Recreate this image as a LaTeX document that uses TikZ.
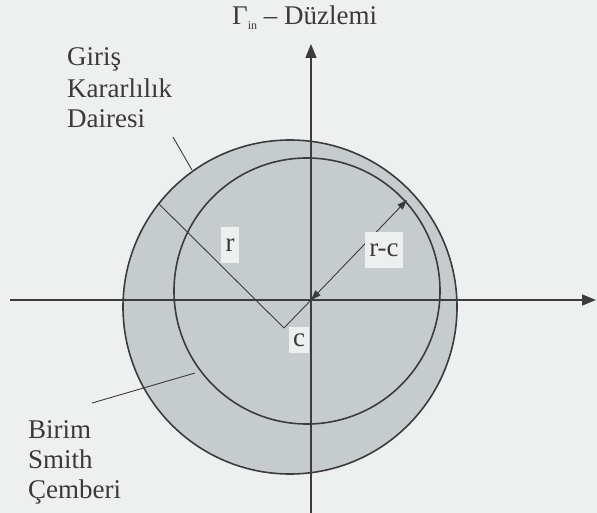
\documentclass[tikz,border=0pt]{standalone}
\usepackage{fontspec}
\setmainfont{Liberation Serif}
\usetikzlibrary{arrows.meta}
\definecolor{bgcol}{RGB}{238,240,240}
\definecolor{shadecol}{RGB}{198,203,206}
\definecolor{ink}{RGB}{60,60,62}
\definecolor{txt}{RGB}{58,58,62}
\begin{document}
\begin{tikzpicture}[x=1pt,y=-1pt,
  lbl/.style={font=\fontsize{27}{31}\selectfont, text=txt, anchor=base west, inner sep=0pt},
  boxlbl/.style={font=\fontsize{27}{31}\selectfont, text=txt, fill=bgcol, inner sep=0pt},
  circ/.style={draw=ink, line width=1.6pt},
  axis/.style={draw=ink, line width=1.4pt, -{Triangle[length=14pt,width=11pt]}},
  thinline/.style={draw=ink, line width=0.9pt},
  dimline/.style={draw=ink, line width=0.9pt, {Triangle[length=10pt,width=7pt]}-{Triangle[length=10pt,width=7pt]}}]
\fill[bgcol] (0,0) rectangle (597,513);
\useasboundingbox (0,0) rectangle (597,513);
% centres and points
\coordinate (S) at (290,307);
\coordinate (U) at (307,291);
\coordinate (O) at (311,300);
\coordinate (C) at (284,328);
\coordinate (P) at (407,200);
\coordinate (R) at (158,203);
% shaded disc and circles
\fill[shadecol] (S) circle[radius=167pt];
\draw[circ] (S) circle[radius=167pt];
\draw[circ] (U) circle[radius=133pt];
% axes
\coordinate (xl) at (10,300);
\coordinate (xr) at (596,300);
\coordinate (yb) at (311,513);
\coordinate (yt) at (311,44);
\draw[axis] (xl) -- (xr);
\draw[axis] (yb) -- (yt);
% radius lines
\draw[thinline] (C) -- (R);
\draw[thinline] (C) -- (O);
\draw[dimline] (O) -- (P);
% pointer lines
\coordinate (p1a) at (173,137);
\coordinate (p1b) at (192,170);
\coordinate (p2a) at (92,403);
\coordinate (p2b) at (195,373);
\draw[thinline] (p1a) -- (p1b);
\draw[thinline] (p2a) -- (p2b);
% boxed labels
\node[boxlbl, minimum width=18pt, minimum height=36pt] (lr) at (230,245) {r};
\node[boxlbl, minimum width=38pt, minimum height=36pt] (lrc) at (384,250) {r-c};
\node[boxlbl, minimum width=20pt, minimum height=26pt] (lc) at (299,340) {c};
% text labels
\node[lbl, font=\fontsize{27}{31}\selectfont] (title) at (232,25) {Γ\raisebox{-5pt}{\fontsize{12}{12}\selectfont in} – Düzlemi};
\node[lbl] (g1) at (67,66) {Giriş};
\node[lbl] (g2) at (67,98) {Kararlılık};
\node[lbl] (g3) at (67,128) {Dairesi};
\node[lbl] (b1) at (28,438) {Birim};
\node[lbl] (b2) at (28,468) {Smith};
\node[lbl] (b3) at (28,498) {Çemberi};
\end{tikzpicture}
\end{document}
